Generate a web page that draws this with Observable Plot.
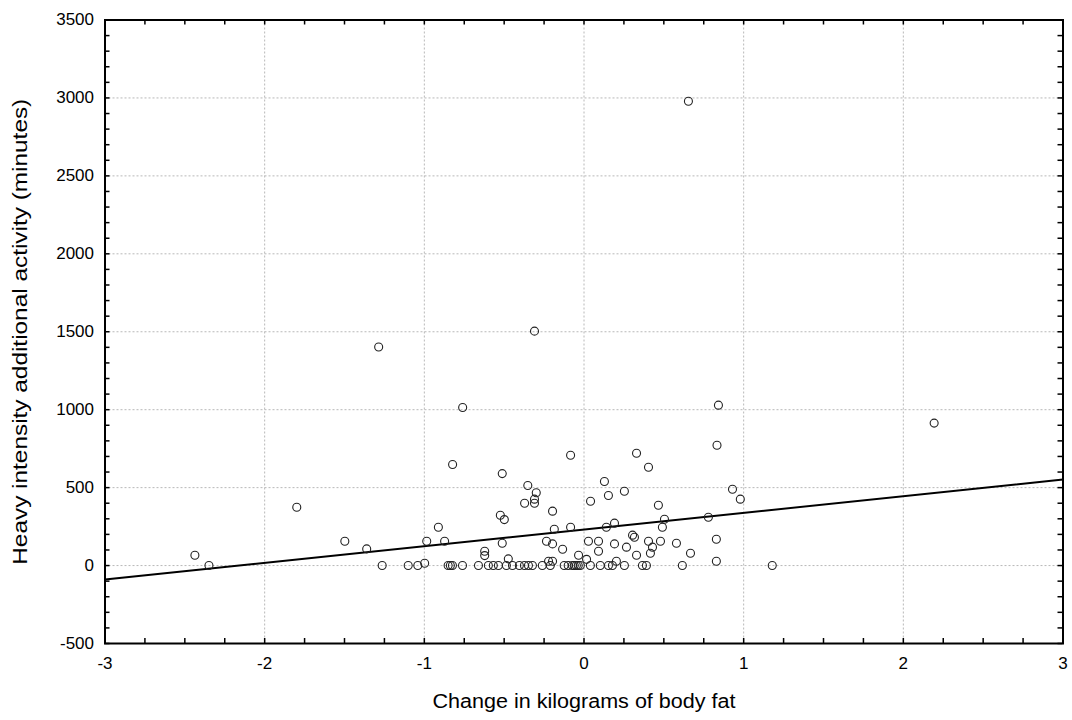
<!DOCTYPE html>
<html><head><meta charset="utf-8">
<script src="https://cdn.jsdelivr.net/npm/d3@7"></script>
<script src="https://cdn.jsdelivr.net/npm/@observablehq/plot@0.6"></script>
<style>
body{margin:0;background:#fff;}
#chart{position:absolute;left:0;top:0;}
</style></head><body><div id="chart"></div>
<script>
// Change in kilograms of body fat (x) and heavy intensity additional activity in minutes (y)
const fatChange = [
  -2.437, -2.349, -1.799, -1.498, -1.361, -1.286, -1.264, -1.101, -1.041, -0.998,
  -0.985, -0.912, -0.873, -0.851, -0.837, -0.824, -0.823, -0.761, -0.760, -0.661,
  -0.622, -0.622, -0.599, -0.568, -0.536, -0.512, -0.524, -0.499, -0.512, -0.474,
  -0.486, -0.448, -0.405, -0.372, -0.352, -0.373, -0.348, -0.323, -0.310, -0.299,
  -0.310, -0.310, -0.261, -0.235, -0.222, -0.211, -0.197, -0.197, -0.197, -0.186,
  -0.134, -0.124, -0.099, -0.084, -0.084, -0.073, -0.061, -0.048, -0.036, -0.034,
  -0.023, 0.016, 0.028, 0.040, 0.041, 0.091, 0.091, 0.102, 0.128, 0.140,
  0.153, 0.153, 0.178, 0.191, 0.191, 0.203, 0.253, 0.253, 0.266, 0.304,
  0.316, 0.329, 0.329, 0.366, 0.391, 0.404, 0.404, 0.416, 0.429, 0.466,
  0.479, 0.491, 0.504, 0.579, 0.616, 0.654, 0.667, 0.779, 0.829, 0.829,
  0.833, 0.842, 0.930, 0.979, 1.179, 2.193
];
const heavyMinutes = [
  66, 0, 374, 156, 107, 1402, 0, 0, 0, 15,
  156, 246, 156, 0, 0, 0, 648, 0, 1014, 0,
  92, 64, 0, 0, 0, 590, 323, 295, 143, 43,
  0, 0, 0, 400, 514, 0, 0, 0, 1504, 467,
  426, 400, 0, 156, 28, 0, 349, 139, 28, 233,
  105, 0, 0, 708, 246, 0, 0, 0, 0, 66,
  0, 40, 156, 0, 413, 156, 92, 0, 539, 246,
  449, 0, 0, 272, 139, 28, 477, 0, 118, 195,
  182, 721, 66, 0, 0, 631, 156, 79, 118, 387,
  156, 246, 297, 143, 0, 2979, 79, 310, 169, 28,
  772, 1029, 490, 426, 0, 914
];
// Fitted regression line end points
const fitX = [-3, 3];
const fitY = [-90, 552];

const xTicks = [-3, -2, -1, 0, 1, 2, 3];
const yTicks = [-500, 0, 500, 1000, 1500, 2000, 2500, 3000, 3500];
const xGrid = [-2, -1, 0, 1, 2];
const yGrid = [0, 500, 1000, 1500, 2000, 2500, 3000];
const xMinor = [-3, -2.75, -2.5, -2.25, -2, -1.75, -1.5, -1.25, -1, -0.75, -0.5, -0.25, 0,
  0.25, 0.5, 0.75, 1, 1.25, 1.5, 1.75, 2, 2.25, 2.5, 2.75, 3];
const yMinor = [-500, -400, -300, -200, -100, 0, 100, 200, 300, 400, 500, 600, 700, 800, 900,
  1000, 1100, 1200, 1300, 1400, 1500, 1600, 1700, 1800, 1900, 2000, 2100, 2200, 2300, 2400,
  2500, 2600, 2700, 2800, 2900, 3000, 3100, 3200, 3300, 3400, 3500];

const points = fatChange.map((x, i) => ({x, y: heavyMinutes[i]}));
const fit = fitX.map((x, i) => ({x, y: fitY[i]}));

const W = 1072, H = 720, mL = 104.5, mR = 9.5, mT = 19.5, mB = 77;
const pw = W - mL - mR, ph = H - mT - mB;
const fmt = d => String(d);

const chart = Plot.plot({
  width: W, height: H,
  marginLeft: mL, marginRight: mR, marginTop: mT, marginBottom: mB,
  style: {fontFamily: "'Liberation Sans', Arial, sans-serif", color: "#000", background: "#fff"},
  x: {domain: [-3, 3]},
  y: {domain: [-500, 3500]},
  marks: [
    Plot.gridX(xGrid, {stroke: "#b8b8b8", strokeOpacity: 1, strokeDasharray: "2,2"}),
    Plot.gridY(yGrid, {stroke: "#b8b8b8", strokeOpacity: 1, strokeDasharray: "2,2"}),
    Plot.tickX(xMinor, {x: d => d, insetTop: ph - 5, stroke: "#000", strokeWidth: 1.5}),
    Plot.tickX(xMinor, {x: d => d, insetBottom: ph - 5, stroke: "#000", strokeWidth: 1.5}),
    Plot.tickY(yMinor, {y: d => d, insetRight: pw - 5, stroke: "#000", strokeWidth: 1.5}),
    Plot.tickY(yMinor, {y: d => d, insetLeft: pw - 5, stroke: "#000", strokeWidth: 1.5}),
    Plot.line(fit, {x: "x", y: "y", stroke: "#000", strokeWidth: 2}),
    Plot.dot(points, {x: "x", y: "y", r: 4, stroke: "#222", fill: "none", strokeWidth: 1.1}),
    Plot.frame({stroke: "#000", strokeWidth: 2}),
    Plot.axisX(xTicks, {tickSize: 0, tickPadding: 13, tickFormat: fmt, fontSize: 17, label: null}),
    Plot.axisY(yTicks, {tickSize: 0, tickPadding: 11, tickFormat: fmt, fontSize: 17, label: null}),
    Plot.axisX({ticks: [], label: "Change in kilograms of body fat", labelAnchor: "center",
      labelArrow: "none", labelOffset: 64, fontSize: 20}),
    Plot.axisY({ticks: [], label: "Heavy intensity additional activity (minutes)", labelAnchor: "center",
      labelArrow: "none", labelOffset: 92, fontSize: 20})
  ]
});
document.getElementById("chart").appendChild(chart);

// Stretch the axis titles to the lengths they have in the reference picture
function stretch(sel, len) {
  const t = chart.querySelector(sel);
  if (t) { t.setAttribute("textLength", len); t.setAttribute("lengthAdjust", "spacingAndGlyphs"); }
}
stretch('g[aria-label="x-axis label"] text', 303);
stretch('g[aria-label="y-axis label"] text', 466);
</script>
</body></html>
